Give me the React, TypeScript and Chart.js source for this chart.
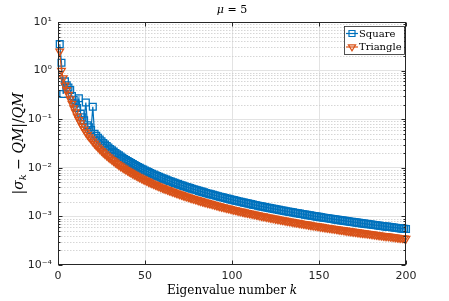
import React, { useEffect, useRef } from "react";
import { Chart, registerables } from "chart.js";

Chart.register(...registerables);

const kValues = Array.from({ length: 200 }, (_, i) => i + 1);

const squareErr = [
  3.5, 1.45, 0.33, 0.6, 0.5, 0.45, 0.4, 0.3, 0.25, 0.21, 0.17, 0.27, 0.13, 0.11, 0.095, 0.22, 0.075, 0.068, 0.06, 0.18,
  0.0499, 0.0455, 0.0416, 0.0382, 0.0352, 0.0325, 0.0302, 0.0281, 0.0262, 0.0244,
  0.0229, 0.0215, 0.0202, 0.019, 0.018, 0.017, 0.0161, 0.0152, 0.0145, 0.0138,
  0.0131, 0.0125, 0.0119, 0.0114, 0.0109, 0.0104, 0.00996, 0.00955, 0.00916, 0.0088,
  0.00846, 0.00814, 0.00783, 0.00754, 0.00727, 0.00702, 0.00677, 0.00654, 0.00632, 0.00611,
  0.00591, 0.00572, 0.00554, 0.00537, 0.00521, 0.00505, 0.0049, 0.00476, 0.00462, 0.00449,
  0.00436, 0.00424, 0.00413, 0.00402, 0.00391, 0.00381, 0.00371, 0.00362, 0.00353, 0.00344,
  0.00335, 0.00327, 0.00319, 0.00312, 0.00304, 0.00297, 0.00291, 0.00284, 0.00278, 0.00272,
  0.00266, 0.0026, 0.00254, 0.00249, 0.00244, 0.00239, 0.00234, 0.00229, 0.00224, 0.0022,
  0.00216, 0.00211, 0.00207, 0.00203, 0.002, 0.00196, 0.00192, 0.00189, 0.00185, 0.00182,
  0.00179, 0.00175, 0.00172, 0.00169, 0.00166, 0.00163, 0.00161, 0.00158, 0.00155, 0.00153,
  0.0015, 0.00148, 0.00145, 0.00143, 0.00141, 0.00139, 0.00136, 0.00134, 0.00132, 0.0013,
  0.00128, 0.00126, 0.00124, 0.00123, 0.00121, 0.00119, 0.00117, 0.00116, 0.00114, 0.00112,
  0.00111, 0.00109, 0.00108, 0.00106, 0.00105, 0.00103, 0.00102, 0.001, 0.000991, 0.000978,
  0.000965, 0.000952, 0.00094, 0.000928, 0.000916, 0.000904, 0.000893, 0.000881, 0.00087, 0.000859,
  0.000849, 0.000838, 0.000828, 0.000818, 0.000808, 0.000798, 0.000789, 0.000779, 0.00077, 0.000761,
  0.000752, 0.000744, 0.000735, 0.000727, 0.000718, 0.00071, 0.000702, 0.000694, 0.000687, 0.000679,
  0.000672, 0.000664, 0.000657, 0.00065, 0.000643, 0.000636, 0.000629, 0.000622, 0.000616, 0.000609,
  0.000603, 0.000597, 0.000591, 0.000585, 0.000579, 0.000573, 0.000567, 0.000561, 0.000556, 0.00055,
];

const triangleErr = [
  2.5, 1.0, 0.7, 0.5, 0.4, 0.32, 0.26, 0.21, 0.17, 0.14, 0.115, 0.097, 0.083, 0.071, 0.062, 0.054, 0.048, 0.043, 0.039, 0.035,
  0.0317, 0.0289, 0.0265, 0.0243, 0.0224, 0.0207, 0.0192, 0.0179, 0.0166, 0.0156,
  0.0146, 0.0137, 0.0129, 0.0121, 0.0114, 0.0108, 0.0102, 0.0097, 0.0092, 0.00875,
  0.00833, 0.00794, 0.00757, 0.00723, 0.00691, 0.00662, 0.00634, 0.00608, 0.00583, 0.0056,
  0.00538, 0.00518, 0.00498, 0.0048, 0.00463, 0.00446, 0.00431, 0.00416, 0.00402, 0.00389,
  0.00376, 0.00364, 0.00353, 0.00342, 0.00331, 0.00321, 0.00312, 0.00303, 0.00294, 0.00286,
  0.00278, 0.0027, 0.00263, 0.00256, 0.00249, 0.00242, 0.00236, 0.0023, 0.00224, 0.00219,
  0.00213, 0.00208, 0.00203, 0.00198, 0.00194, 0.00189, 0.00185, 0.00181, 0.00177, 0.00173,
  0.00169, 0.00165, 0.00162, 0.00158, 0.00155, 0.00152, 0.00149, 0.00146, 0.00143, 0.0014,
  0.00137, 0.00135, 0.00132, 0.00129, 0.00127, 0.00125, 0.00122, 0.0012, 0.00118, 0.00116,
  0.00114, 0.00112, 0.0011, 0.00108, 0.00106, 0.00104, 0.00102, 0.00101, 0.000989, 0.000972,
  0.000956, 0.000941, 0.000925, 0.000911, 0.000896, 0.000882, 0.000868, 0.000854, 0.000841, 0.000828,
  0.000816, 0.000803, 0.000791, 0.00078, 0.000768, 0.000757, 0.000746, 0.000735, 0.000725, 0.000714,
  0.000704, 0.000694, 0.000685, 0.000675, 0.000666, 0.000657, 0.000648, 0.000639, 0.000631, 0.000622,
  0.000614, 0.000606, 0.000598, 0.00059, 0.000583, 0.000575, 0.000568, 0.000561, 0.000554, 0.000547,
  0.00054, 0.000533, 0.000527, 0.000521, 0.000514, 0.000508, 0.000502, 0.000496, 0.00049, 0.000484,
  0.000479, 0.000473, 0.000468, 0.000462, 0.000457, 0.000452, 0.000447, 0.000442, 0.000437, 0.000432,
  0.000427, 0.000423, 0.000418, 0.000414, 0.000409, 0.000405, 0.0004, 0.000396, 0.000392, 0.000388,
  0.000384, 0.00038, 0.000376, 0.000372, 0.000368, 0.000364, 0.000361, 0.000357, 0.000354, 0.00035,
];

const seriesLabels = ["Square", "Triangle"];
const seriesColors = ["#0072BD", "#D95319"];
const xTicks = [0, 50, 100, 150, 200];
const yMajorTicks = [1e-4, 1e-3, 1e-2, 1e-1, 1, 10];
const yTickLabels = ["10⁻⁴", "10⁻³", "10⁻²", "10⁻¹", "10⁰", "10¹"];
const minorMultipliers = [2, 3, 4, 5, 6, 7, 8, 9];

const yMinorTicks: number[] = [];
yMajorTicks.slice(0, -1).forEach((d) => minorMultipliers.forEach((m) => yMinorTicks.push(m * d)));

const isMajor = (v: number) => yMajorTicks.some((m) => Math.abs(v - m) / m < 1e-6);

type Part = { t: string; italic?: boolean; sub?: boolean };

function drawRich(ctx: CanvasRenderingContext2D, parts: Part[], cx: number, cy: number, size: number) {
  const fonts = parts.map(
    (p) => `${p.italic ? "italic " : ""}${p.sub ? Math.round(size * 0.72) : size}px "DejaVu Serif"`
  );
  let w = 0;
  const widths = parts.map((p, i) => {
    ctx.font = fonts[i];
    const m = ctx.measureText(p.t).width;
    w += m;
    return m;
  });
  let x = cx - w / 2;
  ctx.textBaseline = "middle";
  ctx.textAlign = "left";
  parts.forEach((p, i) => {
    ctx.font = fonts[i];
    ctx.fillText(p.t, x, cy + (p.sub ? size * 0.3 : 0));
    x += widths[i];
  });
}

function drawMarker(ctx: CanvasRenderingContext2D, kind: number, x: number, y: number, color: string) {
  ctx.strokeStyle = color;
  ctx.lineWidth = 1.2;
  ctx.beginPath();
  if (kind === 0) {
    ctx.rect(x - 3, y - 3, 6, 6);
  } else {
    ctx.moveTo(x - 3.6, y - 2.2);
    ctx.lineTo(x + 3.6, y - 2.2);
    ctx.lineTo(x, y + 3.8);
    ctx.closePath();
  }
  ctx.stroke();
}

const matlabPlugin = {
  id: "matlabDecor",
  beforeDatasetsDraw(chart: any) {
    const { ctx, chartArea: a, scales } = chart;
    const y = scales.y;
    ctx.save();
    ctx.strokeStyle = "#cccccc";
    ctx.lineWidth = 0.8;
    ctx.setLineDash([1.5, 1.5]);
    yMinorTicks.forEach((v) => {
      const py = Math.round(y.getPixelForValue(v)) + 0.5;
      ctx.beginPath();
      ctx.moveTo(a.left, py);
      ctx.lineTo(a.right, py);
      ctx.stroke();
    });
    ctx.restore();
  },
  afterDatasetsDraw(chart: any) {
    const { ctx, chartArea: a, scales } = chart;
    const { x, y } = scales;
    ctx.save();
    ctx.strokeStyle = "#262626";
    ctx.lineWidth = 1;
    const L = Math.round(a.left) + 0.5;
    const R = Math.round(a.right) - 0.5;
    const T = Math.round(a.top) + 0.5;
    const B = Math.round(a.bottom) - 0.5;
    ctx.strokeRect(L, T, R - L, B - T);
    ctx.beginPath();
    [...yMajorTicks, ...yMinorTicks].forEach((v) => {
      const len = isMajor(v) ? 4 : 2;
      const py = Math.round(y.getPixelForValue(v)) + 0.5;
      ctx.moveTo(L, py);
      ctx.lineTo(L + len, py);
      ctx.moveTo(R, py);
      ctx.lineTo(R - len, py);
    });
    xTicks.forEach((v) => {
      const px = Math.round(x.getPixelForValue(v)) + 0.5;
      ctx.moveTo(px, B);
      ctx.lineTo(px, B - 4);
      ctx.moveTo(px, T);
      ctx.lineTo(px, T + 4);
    });
    ctx.stroke();

    // legend
    const lx = Math.round(a.right) - 62;
    const ly = Math.round(a.top) + 4;
    ctx.fillStyle = "#ffffff";
    ctx.fillRect(lx, ly, 60, 28);
    ctx.strokeStyle = "#262626";
    ctx.lineWidth = 0.8;
    ctx.strokeRect(lx + 0.5, ly + 0.5, 60, 28);
    chart.data.datasets.forEach((ds: any, i: number) => {
      const ry = ly + 7.5 + i * 13.5;
      ctx.strokeStyle = ds.borderColor;
      ctx.lineWidth = 1.2;
      ctx.beginPath();
      ctx.moveTo(lx + 2, ry);
      ctx.lineTo(lx + 14, ry);
      ctx.stroke();
      drawMarker(ctx, i, lx + 8, ry, ds.borderColor);
      ctx.fillStyle = "#000000";
      ctx.font = '10px "DejaVu Serif"';
      ctx.textAlign = "left";
      ctx.textBaseline = "middle";
      ctx.fillText(ds.label, lx + 15, ry + 0.5);
    });
    ctx.restore();
  },
  afterDraw(chart: any) {
    const { ctx, chartArea: a } = chart;
    const cx = (a.left + a.right) / 2;
    ctx.save();
    ctx.fillStyle = "#000000";
    drawRich(ctx, [{ t: "μ", italic: true }, { t: " = 5" }], cx, 10, 11);
    drawRich(ctx, [{ t: "Eigenvalue number " }, { t: "k", italic: true }], cx, 291, 12);
    ctx.translate(19, (a.top + a.bottom) / 2);
    ctx.rotate(-Math.PI / 2);
    drawRich(
      ctx,
      [
        { t: "|" },
        { t: "σ", italic: true },
        { t: "k", italic: true, sub: true },
        { t: " − " },
        { t: "QM", italic: true },
        { t: "|/" },
        { t: "QM", italic: true },
      ],
      0,
      0,
      14
    );
    ctx.restore();
  },
};

export default function App() {
  const canvasRef = useRef<HTMLCanvasElement | null>(null);

  useEffect(() => {
    document.body.style.margin = "0";
    const canvas = canvasRef.current;
    if (!canvas) return;
    const series = [squareErr, triangleErr];
    const chart = new Chart(canvas, {
      type: "line",
      data: {
        datasets: series.map((vals, i) => ({
          label: seriesLabels[i],
          data: kValues.map((k, j) => ({ x: k, y: vals[j] })),
          borderColor: seriesColors[i],
          backgroundColor: "rgba(0,0,0,0)",
          pointBackgroundColor: "rgba(0,0,0,0)",
          pointBorderColor: seriesColors[i],
          pointBorderWidth: 1.3,
          borderWidth: 1.2,
          pointStyle: i === 0 ? "rect" : "triangle",
          pointRotation: i === 0 ? 0 : 180,
          pointRadius: i === 0 ? 4.8 : 4.4,
          pointHoverRadius: 4.8,
          tension: 0,
          clip: false,
          order: i === 0 ? 1 : 0,
        })),
      },
      options: {
        animation: false,
        responsive: false,
        devicePixelRatio: 1,
        events: [],
        layout: { padding: { left: 0, right: 43, top: 22, bottom: 0 } },
        plugins: {
          legend: { display: false },
          tooltip: { enabled: false },
          title: { display: false },
        },
        scales: {
          x: {
            type: "linear",
            min: 0,
            max: 200,
            afterBuildTicks: (s: any) => {
              s.ticks = xTicks.map((v) => ({ value: v }));
            },
            afterFit: (s: any) => {
              s.height = 36;
            },
            ticks: {
              autoSkip: false,
              maxRotation: 0,
              padding: 5,
              color: "#262626",
              font: { family: "DejaVu Sans", size: 11 },
            },
            grid: {
              drawTicks: false,
              lineWidth: 1,
              color: (c: any) =>
                c.tick && (c.tick.value === 0 || c.tick.value === 200) ? "rgba(0,0,0,0)" : "#e3e3e3",
            },
            border: { display: false },
          },
          y: {
            type: "logarithmic",
            min: 1e-4,
            max: 10,
            afterBuildTicks: (s: any) => {
              s.ticks = [...yMajorTicks, ...yMinorTicks]
                .sort((p, q) => p - q)
                .map((v) => ({ value: v, major: false }));
            },
            afterFit: (s: any) => {
              s.width = 58;
            },
            ticks: {
              autoSkip: false,
              padding: 6,
              color: "#262626",
              font: { family: "DejaVu Sans", size: 11 },
              callback: (v: any) => {
                const idx = yMajorTicks.findIndex((m) => Math.abs(Number(v) - m) / m < 1e-6);
                return idx >= 0 ? yTickLabels[idx] : "";
              },
            },
            grid: {
              drawTicks: false,
              lineWidth: 1,
              color: (c: any) =>
                c.tick && isMajor(c.tick.value) && c.tick.value !== 10 && c.tick.value !== 1e-4
                  ? "#e3e3e3"
                  : "rgba(0,0,0,0)",
            },
            border: { display: false },
          },
        },
      },
      plugins: [matlabPlugin],
    } as any);
    return () => chart.destroy();
  }, []);

  return (
    <div style={{ position: "relative", width: 449, height: 301, background: "#ffffff" }}>
      <canvas ref={canvasRef} width={449} height={301} style={{ display: "block" }} />
    </div>
  );
}
